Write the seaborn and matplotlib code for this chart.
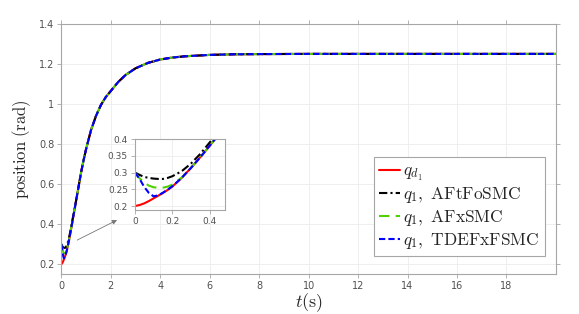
import matplotlib
matplotlib.use("Agg")
import matplotlib.pyplot as plt
import seaborn as sns
import pandas as pd

# time samples (s)
t = [0, 0.025, 0.05, 0.075, 0.1, 0.125, 0.15, 0.175, 0.2, 0.25, 0.3, 0.35, 0.4, 0.45,
     0.5, 0.6, 0.7, 0.8, 0.9, 1.0, 1.2, 1.4, 1.6, 1.8, 2.0, 2.3, 2.6, 3.0, 3.5, 4.0,
     4.5, 5, 6, 7, 8, 10, 14, 20]

# shared tail of all curves after t = 0.5 s
tail = [0.45, 0.52, 0.59, 0.66, 0.72, 0.775, 0.87, 0.94, 0.995, 1.035, 1.065, 1.11,
        1.145, 1.178, 1.205, 1.222, 1.232, 1.238, 1.245, 1.248, 1.249, 1.25, 1.25, 1.25]

q_d1 = [0.2, 0.203, 0.208, 0.215, 0.223, 0.231, 0.239, 0.248, 0.258, 0.284, 0.314,
        0.346, 0.38, 0.415] + tail
q_aftfo = [0.3, 0.293, 0.287, 0.284, 0.282, 0.281, 0.281, 0.284, 0.289, 0.304, 0.327,
           0.356, 0.39, 0.423, 0.455] + tail[1:]
q_afx = [0.3, 0.283, 0.27, 0.261, 0.256, 0.255, 0.255, 0.258, 0.264, 0.285, 0.314,
         0.346, 0.38, 0.415] + tail
q_tdefx = [0.3, 0.281, 0.257, 0.239, 0.229, 0.232, 0.24, 0.249, 0.259, 0.284, 0.314,
           0.346, 0.38, 0.415] + tail

labels = [r"$q_{d_1}$", r"$q_1,\ \mathrm{AFtFoSMC}$", r"$q_1,\ \mathrm{AFxSMC}$",
          r"$q_1,\ \mathrm{TDEFxFSMC}$"]
series = [q_d1, q_aftfo, q_afx, q_tdefx]
colors = ["#ff0000", "#000000", "#4fd000", "#0000ff"]
dashes = [(None, None), (4, 1.5, 1, 1.5), (5, 3), (3, 1.5)]

sns.set_style("whitegrid", {"grid.color": "#ececec", "axes.edgecolor": "#a6a6a6"})
plt.rcParams["mathtext.fontset"] = "cm"
plt.rcParams["font.family"] = ["DejaVu Sans"]

fig = plt.figure(figsize=(5.79, 3.14), dpi=100)
ax = fig.add_axes([0.106, 0.127, 0.854, 0.797])


def draw(a, lw):
    for y, lab, c, d in zip(series, labels, colors, dashes):
        line = sns.lineplot(x=t, y=y, ax=a, color=c, lw=lw, label=lab, legend=False)
        if d[0] is not None:
            line.lines[-1].set_dashes(d)


def style(a, fs):
    for s in a.spines.values():
        s.set_color("#a6a6a6")
        s.set_linewidth(0.8)
    a.tick_params(direction="out", length=3, width=0.6, color="#a6a6a6",
                  labelsize=fs, labelcolor="#505050", pad=2,
                  top=True, right=True, bottom=True, left=True)
    a.grid(True, color="#ececec", lw=0.6)


draw(ax, 1.5)
ax.set_xlim(0, 20)
ax.set_ylim(0.15, 1.4)
ax.set_xticks(range(0, 19, 2))
ax.set_yticks([0.2, 0.4, 0.6, 0.8, 1.0, 1.2, 1.4])
ax.set_yticklabels(["0.2", "0.4", "0.6", "0.8", "1", "1.2", "1.4"])
style(ax, 7)
ax.set_xlabel(r"$t(\mathrm{s})$", fontsize=13, labelpad=0)
ax.set_ylabel(r"$\mathrm{position\ (rad)}$", fontsize=12, labelpad=4)

ax.annotate("", xy=(2.25, 0.42), xytext=(0.64, 0.32),
            arrowprops=dict(arrowstyle="-|>", color="#777777", lw=0.6,
                            mutation_scale=7, shrinkA=0, shrinkB=0))

leg = ax.legend(loc="lower right", bbox_to_anchor=(0.941, 0.185),
                bbox_transform=fig.transFigure, fontsize=12.5, frameon=True,
                fancybox=False, handlelength=1.2, handletextpad=0.2,
                labelspacing=0.15, borderpad=0.3, borderaxespad=0)
leg.get_frame().set_edgecolor("#a6a6a6")
leg.get_frame().set_linewidth(0.8)
leg.get_frame().set_alpha(1)

ins = fig.add_axes([0.233, 0.331, 0.155, 0.226])
draw(ins, 1.5)
ins.set_xlim(0, 0.48)
ins.set_ylim(0.188, 0.4)
ins.set_xticks([0, 0.2, 0.4])
ins.set_xticklabels(["0", "0.2", "0.4"])
ins.set_yticks([0.2, 0.25, 0.3, 0.35, 0.4])
ins.set_yticklabels(["0.2", "0.25", "0.3", "0.35", "0.4"])
style(ins, 6.5)
ins.tick_params(top=False, right=False)

fig.savefig("out.png", dpi=100)
